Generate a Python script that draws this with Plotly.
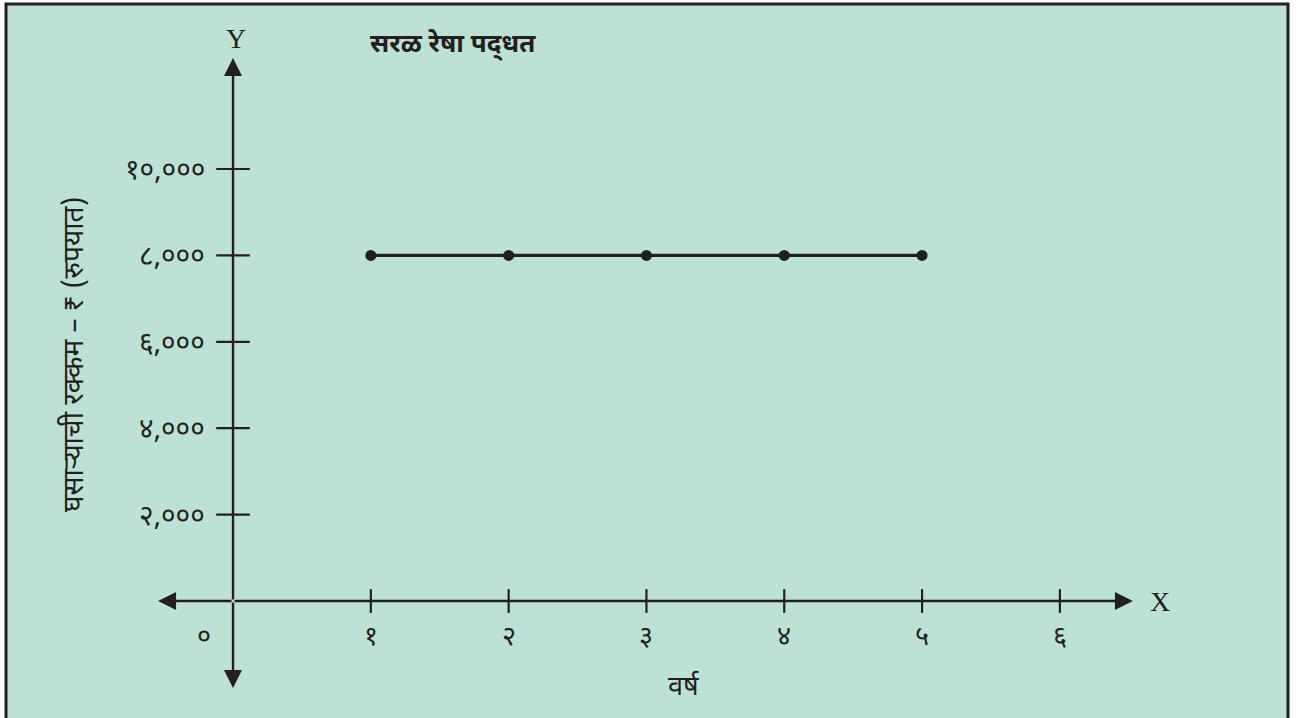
import plotly.graph_objects as go

# ---- data ----
years = [1, 2, 3, 4, 5]
depreciation = [8000, 8000, 8000, 8000, 8000]

x_ticks = [0, 1, 2, 3, 4, 5, 6]
x_tick_labels = ["०", "१", "२", "३", "४", "५", "६"]
y_ticks = [2000, 4000, 6000, 8000, 10000]
y_tick_labels = ["२,०००", "४,०००", "६,०००", "८,०००", "१०,०००"]

title_text = "सरळ रेषा पद्\u200cधत"
x_title = "वर्ष"
y_title = "घसाऱ्याची रक्कम – ₹ (रुपयात)"

# axis extents (arrow tips)
x_axis_min, x_axis_max = -0.544, 6.53
y_axis_min, y_axis_max = -2014, 12569

W, H = 1302, 718
X_RANGE = [-1.691, 7.757]
Y_RANGE = [-2708, 13912]

BG = "#BDE2D5"
INK = "#231F20"
DEVA = "Noto Sans Devanagari, Lohit Devanagari, Mukta, FreeSans, Noto Sans, sans-serif"
SERIF = "Liberation Serif, Times New Roman, serif"

fig = go.Figure()

# data line
fig.add_trace(go.Scatter(
    x=years, y=depreciation, mode="lines+markers",
    line=dict(color=INK, width=3.2),
    marker=dict(color=INK, size=11),
    hoverinfo="skip", showlegend=False, cliponaxis=False,
))

# x tick marks (skip 0)
fig.add_trace(go.Scatter(
    x=x_ticks[1:], y=[0] * (len(x_ticks) - 1), mode="markers",
    marker=dict(symbol="line-ns", size=17, line=dict(color=INK, width=2.2)),
    hoverinfo="skip", showlegend=False, cliponaxis=False,
))
# y tick marks
fig.add_trace(go.Scatter(
    x=[0] * len(y_ticks), y=y_ticks, mode="markers",
    marker=dict(symbol="line-ew", size=24, line=dict(color=INK, width=2.2)),
    hoverinfo="skip", showlegend=False, cliponaxis=False,
))

annotations = []
# axis arrows
for (tx, ty) in [(x_axis_min, 0), (x_axis_max, 0), (0, y_axis_min), (0, y_axis_max)]:
    annotations.append(dict(
        x=tx, y=ty, ax=0, ay=0, xref="x", yref="y", axref="x", ayref="y",
        text="", showarrow=True, arrowhead=2, arrowsize=1.5, arrowwidth=2.4,
        arrowcolor=INK, standoff=0, startstandoff=0,
    ))

# x tick labels
for xv, lab in zip(x_ticks, x_tick_labels):
    annotations.append(dict(
        x=xv, y=0, xref="x", yref="y", text=lab, showarrow=False,
        xanchor="center", yanchor="middle", yshift=-37,
        xshift=-29 if xv == 0 else 0,
        font=dict(family=DEVA, size=27, color=INK),
    ))
# y tick labels
for yv, lab in zip(y_ticks, y_tick_labels):
    annotations.append(dict(
        x=0, y=yv, xref="x", yref="y", text=lab, showarrow=False,
        xanchor="right", yanchor="middle", xshift=-26, yshift=-3,
        font=dict(family=DEVA, size=28, color=INK),
    ))

# axis letters
annotations.append(dict(x=0, y=y_axis_max, xref="x", yref="y", text="Y", showarrow=False,
                        xanchor="center", yanchor="bottom", yshift=2, xshift=3,
                        font=dict(family=SERIF, size=28, color=INK)))
annotations.append(dict(x=x_axis_max, y=0, xref="x", yref="y", text="X", showarrow=False,
                        xanchor="left", yanchor="middle", xshift=15,
                        font=dict(family=SERIF, size=28, color=INK)))

# titles
annotations.append(dict(x=368 / W, y=1 - 46 / H, xref="paper", yref="paper", text="<b>" + title_text + "</b>",
                        showarrow=False, xanchor="left", yanchor="middle",
                        font=dict(family=DEVA, size=26, color=INK)))
annotations.append(dict(x=684 / W, y=1 - 688 / H, xref="paper", yref="paper", text=x_title,
                        showarrow=False, xanchor="center", yanchor="middle",
                        font=dict(family=DEVA, size=27, color=INK)))
annotations.append(dict(x=75 / W, y=1 - 355 / H, xref="paper", yref="paper", text=y_title,
                        showarrow=False, xanchor="center", yanchor="middle", textangle=-90,
                        font=dict(family=DEVA, size=28, color=INK)))

fig.update_layout(
    width=W, height=H,
    margin=dict(l=0, r=0, t=0, b=0),
    paper_bgcolor="white", plot_bgcolor="rgba(0,0,0,0)",
    xaxis=dict(range=X_RANGE, visible=False, fixedrange=True),
    yaxis=dict(range=Y_RANGE, visible=False, fixedrange=True),
    annotations=annotations,
    shapes=[dict(type="rect", xref="paper", yref="paper",
                 x0=6 / W, x1=1288 / W, y0=-0.05, y1=1 - 4 / H,
                 fillcolor=BG, line=dict(color=INK, width=3), layer="below")],
    showlegend=False,
)

fig.write_html("out.html", config={"displayModeBar": False},
               post_script="document.body.style.margin='0';")
